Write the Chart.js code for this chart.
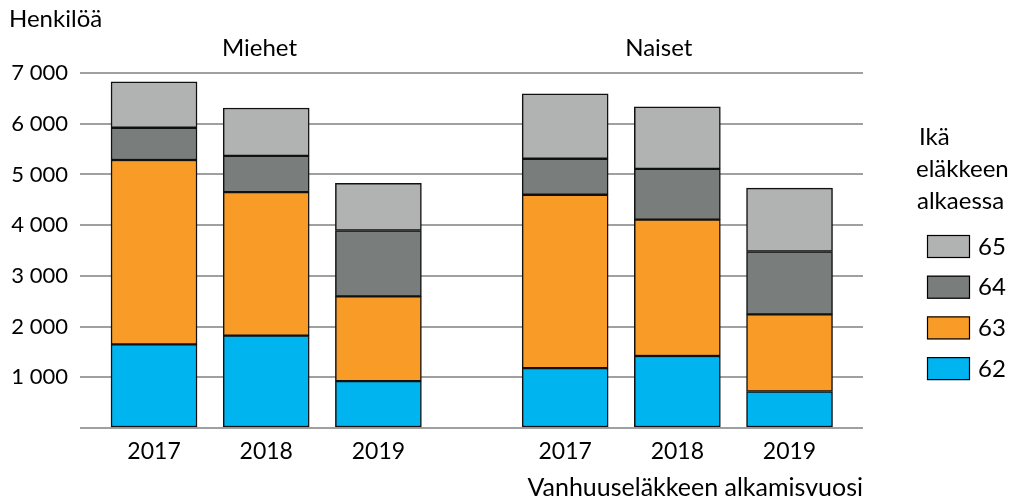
<!DOCTYPE html>
<html>
<head>
<meta charset="utf-8">
<script src="https://cdn.jsdelivr.net/npm/chart.js@4.4.1/dist/chart.umd.min.js"></script>
<style>
  html, body { margin: 0; padding: 0; background: #fff; }
  #wrap { width: 1018px; height: 498px; position: relative; }
</style>
</head>
<body>
<div id="wrap"><canvas id="barChart"></canvas></div>
<script>
// data
var groups = ['Miehet', 'Naiset'];
var years = ['2017', '2018', '2019', '2017', '2018', '2019'];
var xPos = [0, 1, 2, 3.665, 4.665, 5.665];   // slot of each bar, gap between the groups
var ageLabels = ['62', '63', '64', '65'];
var age62 = [1650, 1820, 925, 1180, 1420, 720];
var age63 = [3635, 2830, 1670, 3420, 2690, 1520];
var age64 = [635, 715, 1300, 710, 1000, 1240];
var age65 = [905, 945, 930, 1280, 1225, 1250];
var yTicks = [0, 1000, 2000, 3000, 4000, 5000, 6000, 7000];

var colors = ['#00b5ef', '#f89c27', '#797d7c', '#b1b3b2'];
var FONT = 'Lato, "Open Sans", sans-serif';

function pts(vals) {
    return vals.map(function (v, i) { return { x: xPos[i], y: v }; });
}

function fmt(v) {
    return String(v).replace(/\B(?=(\d{3})+(?!\d))/g, ' ');
}

var extras = {
    id: 'extras',
    afterDraw: function (chart) {
        var c = chart.ctx, xs = chart.scales.x;
        c.save();
        c.fillStyle = '#000';
        c.font = '24px ' + FONT;
        c.textBaseline = 'middle';
        c.textAlign = 'left';
        c.fillText('Henkilöä', 9, 19);
        // group headers
        c.textAlign = 'center';
        c.fillText(groups[0], xs.getPixelForValue(0.94), 48);
        c.fillText(groups[1], xs.getPixelForValue(4.5), 48);
        // legend
        c.textAlign = 'left';
        c.fillText('Ikä', 919, 137);
        c.fillText('eläkkeen', 916, 169);
        c.fillText('alkaessa', 917, 201);
        var ds = chart.data.datasets;
        for (var k = 0; k < ds.length; k++) {
            var i = ds.length - 1 - k;
            var y = 235 + k * 40.7;
            c.fillStyle = ds[i].backgroundColor;
            c.fillRect(927, y, 43, 23);
            c.strokeStyle = '#000';
            c.lineWidth = 1.2;
            c.strokeRect(927.5, y + 0.5, 42, 22);
            c.fillStyle = '#000';
            c.fillText(ds[i].label, 978, y + 12);
        }
        c.restore();
    }
};

var ctx = document.getElementById('barChart').getContext('2d');
var myChart = new Chart(ctx, {
    type: 'bar',
    data: {
        datasets: [age62, age63, age64, age65].map(function (d, i) {
            return {
                label: ageLabels[i],
                data: pts(d),
                backgroundColor: colors[i],
                borderColor: '#111',
                borderWidth: 1.5,
                borderSkipped: false,
                barThickness: 86
            };
        })
    },
    options: {
        responsive: true,
        maintainAspectRatio: false,
        animation: false,
        layout: { padding: { top: 73, right: 155, bottom: 0, left: 0 } },
        plugins: {
            legend: { display: false },
            tooltip: { enabled: false }
        },
        scales: {
            x: {
                type: 'linear',
                stacked: true,
                offset: false,
                bounds: 'data',
                min: -0.66,
                max: 6.32,
                grid: { display: false, drawTicks: false, offset: false },
                border: { display: false },
                afterBuildTicks: function (axis) {
                    axis.ticks = xPos.map(function (p) { return { value: p }; });
                },
                afterFit: function (axis) { axis.height = 70; },
                ticks: {
                    autoSkip: false,
                    maxRotation: 0,
                    padding: 10,
                    color: '#000',
                    font: { family: FONT, size: 23 },
                    callback: function (v, i) { return years[i]; }
                },
                title: {
                    display: true,
                    text: 'Vanhuuseläkkeen alkamisvuosi',
                    align: 'end',
                    color: '#000',
                    font: { family: FONT, size: 25 },
                    padding: { top: 0, bottom: -5 }
                }
            },
            y: {
                stacked: true,
                min: 0,
                max: 7000,
                afterBuildTicks: function (axis) {
                    axis.ticks = yTicks.map(function (v) { return { value: v }; });
                },
                afterFit: function (axis) { axis.width = 80; },
                grid: { color: '#a0a0a0', lineWidth: 2, drawTicks: false },
                border: { display: false },
                ticks: {
                    padding: 12,
                    color: '#000',
                    font: { family: FONT, size: 22 },
                    callback: function (v) { return v === 0 ? '' : fmt(v); }
                }
            }
        }
    },
    plugins: [extras]
});
</script>
</body>
</html>
